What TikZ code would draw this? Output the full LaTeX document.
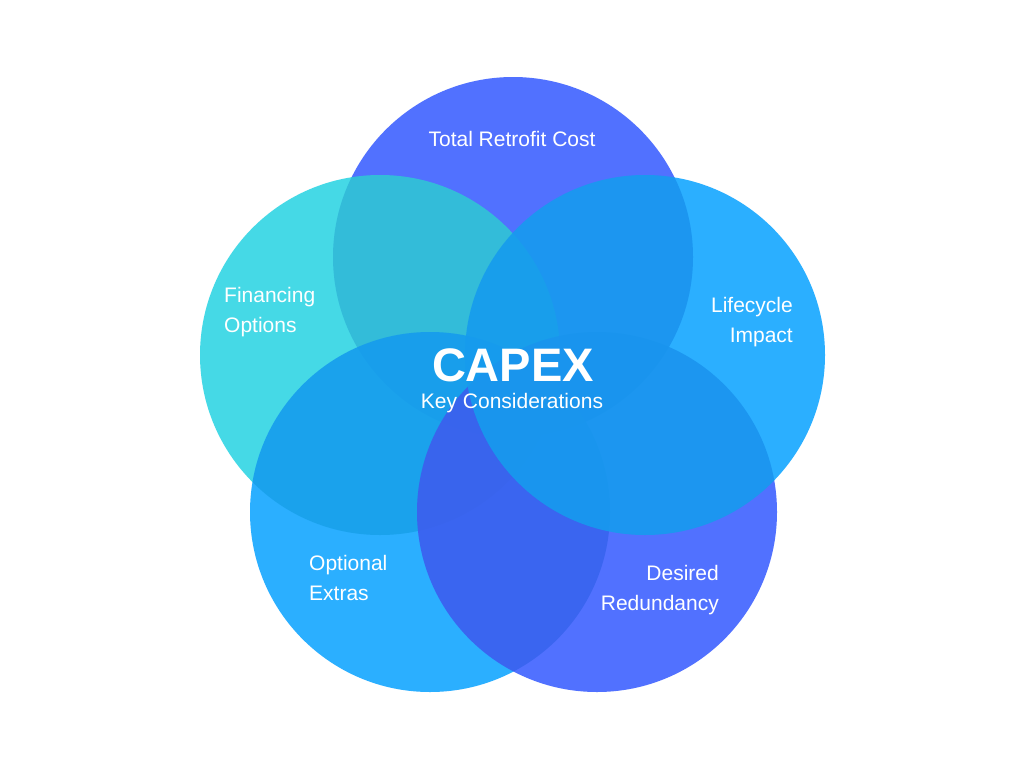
\documentclass[tikz,border=0pt]{standalone}
\usepackage{fontspec}
\setmainfont{Liberation Sans}
\definecolor{cblue}{RGB}{58,94,255}
\definecolor{ccyan}{RGB}{44,212,227}
\definecolor{clight}{RGB}{14,164,255}
\definecolor{cdim}{RGB}{85,92,110}
\tikzset{
  petal/.style={fill opacity=0.88, draw=none},
  shade/.style={fill=cdim, fill opacity=0.1, draw=none},
  lbl/.style={text=white, inner sep=0pt, font=\fontsize{21}{30}\selectfont},
}
\begin{document}
\begin{tikzpicture}[x=1pt,y=-1pt]
\useasboundingbox[fill=white] (0,0) rectangle (1024,768);
\coordinate (T) at (513,257);
\coordinate (L) at (380,355);
\coordinate (BL) at (430,512);
\coordinate (BR) at (597,512);
\coordinate (R) at (645,355);
\def\rr{180}
\fill[petal, cblue]  (T) circle[radius=\rr];
\fill[petal, ccyan]  (L) circle[radius=\rr];
\begin{scope}
  \clip (L) circle[radius=\rr];
  \fill[shade] (T) circle[radius=\rr];
\end{scope}
\fill[petal, clight] (BL) circle[radius=\rr];
\begin{scope}
  \clip (BL) circle[radius=\rr];
  \fill[shade] (T) circle[radius=\rr] (L) circle[radius=\rr];
\end{scope}
\fill[petal, cblue]  (BR) circle[radius=\rr];
\begin{scope}
  \clip (BR) circle[radius=\rr];
  \fill[shade] (T) circle[radius=\rr] (L) circle[radius=\rr] (BL) circle[radius=\rr];
\end{scope}
\fill[petal, clight] (R) circle[radius=\rr];
\begin{scope}
  \clip (R) circle[radius=\rr];
  \fill[shade] (T) circle[radius=\rr] (L) circle[radius=\rr] (BL) circle[radius=\rr] (BR) circle[radius=\rr];
\end{scope}
\node[lbl] (top) at (512,139) {Total Retrofit Cost};
\node[lbl, anchor=west, align=left] (fin) at (224,312) {Financing\\Options};
\node[lbl, anchor=east, align=right] (life) at (793,322) {Lifecycle\\Impact};
\node[lbl, anchor=west, align=left] (opt) at (309,578) {Optional\\Extras};
\node[lbl, anchor=east, align=right] (red) at (719,590) {Desired\\Redundancy};
\node[lbl, font=\fontsize{47}{50}\selectfont\bfseries] (capex) at (513,365) {CAPEX};
\node[lbl] (key) at (512,403) {Key Considerations};
\end{tikzpicture}
\end{document}
